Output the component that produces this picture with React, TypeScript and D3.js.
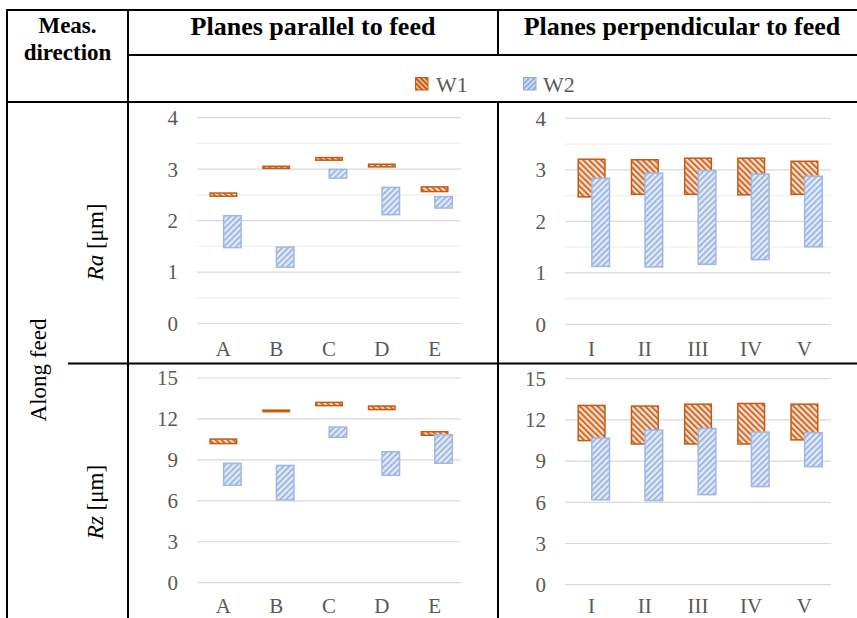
import React from "react";
import * as d3 from "d3";

const catsPar = ["A", "B", "C", "D", "E"];
const catsPerp = ["I", "II", "III", "IV", "V"];

const raParW1Low = [2.46, 3.0, 3.16, 3.03, 2.55];
const raParW1High = [2.55, 3.07, 3.24, 3.11, 2.67];
const raParW2Low = [1.46, 1.08, 2.81, 2.1, 2.23];
const raParW2High = [2.11, 1.5, 3.01, 2.66, 2.48];

const raPerpW1Low = [2.46, 2.51, 2.51, 2.5, 2.51];
const raPerpW1High = [3.22, 3.21, 3.24, 3.24, 3.18];
const raPerpW2Low = [1.11, 1.1, 1.15, 1.24, 1.49];
const raPerpW2High = [2.85, 2.95, 3.0, 2.93, 2.89];

const rzParW1Low = [10.14, 12.48, 12.92, 12.63, 10.75];
const rzParW1High = [10.58, 12.7, 13.27, 13.0, 11.12];
const rzParW2Low = [7.09, 6.01, 10.6, 7.82, 8.7];
const rzParW2High = [8.8, 8.65, 11.46, 9.65, 10.9];

const rzPerpW1Low = [10.44, 10.19, 10.19, 10.19, 10.49];
const rzPerpW1High = [13.11, 13.06, 13.2, 13.25, 13.2];
const rzPerpW2Low = [6.12, 6.07, 6.5, 7.09, 8.54];
const rzPerpW2High = [10.73, 11.31, 11.43, 11.17, 11.12];

const raTicks = [0, 1, 2, 3, 4];
const raMinor = [0.5, 1.5, 2.5, 3.5];
const rzTicks = [0, 3, 6, 9, 12, 15];

const seriesNames = ["W1", "W2"];

const SERIF = "Liberation Serif, Times New Roman, Times, serif";
const TXT = "#595959";

type PanelProps = {
  x0: number; x1: number; yZero: number; yTop: number; max: number;
  ticks: number[]; minor: number[]; cats: string[];
  w1Low: number[]; w1High: number[]; w2Low: number[]; w2High: number[];
};

function Panel(p: PanelProps) {
  const x = d3.scaleBand<string>().domain(p.cats).range([p.x0, p.x1]);
  const y = d3.scaleLinear().domain([0, p.max]).range([p.yZero, p.yTop]);
  const bw = x.bandwidth();
  const labY = Math.min(p.yZero + 32, 613);
  return (
    <g>
      {p.minor.map((t) => (
        <line key={"m" + t} x1={p.x0} x2={p.x1} y1={y(t)} y2={y(t)} stroke="#efefef" strokeWidth={1.2} />
      ))}
      {p.ticks.map((t) => (
        <g key={"t" + t}>
          <line x1={p.x0} x2={p.x1} y1={y(t)} y2={y(t)} stroke="#d9d9d9" strokeWidth={1.2} />
          <text x={p.x0 - 19} y={y(t)} dy="0.35em" textAnchor="end" style={{ fontFamily: SERIF, fontSize: 21 }} fill={TXT}>{t}</text>
        </g>
      ))}
      {p.cats.map((c, i) => {
        const cx = (x(c) as number) + bw / 2;
        const w1t = y(p.w1High[i]), w1b = y(p.w1Low[i]);
        const w2t = y(p.w2High[i]), w2b = y(p.w2Low[i]);
        return (
          <g key={c}>
            <rect x={cx - 0.265 * bw + 0.75} width={0.53 * bw - 1.5} y={w1t + 0.75} height={Math.max(0.5, w1b - w1t - 1.5)}
              fill="url(#patW1)" stroke="#c55a11" strokeWidth={1.5} />
            <rect x={cx - 0.01 * bw + 0.75} width={0.36 * bw - 1.5} y={w2t + 0.75} height={Math.max(0.5, w2b - w2t - 1.5)}
              fill="url(#patW2)" stroke="#9fb8e3" strokeWidth={1.5} />
            <text x={cx} y={labY} textAnchor="middle" style={{ fontFamily: SERIF, fontSize: 21 }} fill={TXT}>{c}</text>
          </g>
        );
      })}
    </g>
  );
}

export default function App() {
  const lines: [number, number, number, number][] = [
    [7, 10, 857, 10],
    [7, 9, 7, 618],
    [128, 9, 128, 618],
    [498, 9, 498, 55],
    [498, 102, 498, 618],
    [128, 55, 857, 55],
    [7, 102, 857, 102],
    [68, 363.5, 857, 363.5],
  ];
  const bold = { fontFamily: SERIF, fontWeight: "bold" as const };
  return (
    <svg width={857} height={618} style={{ position: "absolute", left: 0, top: 0, background: "#fff" }}>
      <defs>
        <pattern id="patW1" width={4.2} height={4.2} patternUnits="userSpaceOnUse" patternTransform="rotate(-45)">
          <rect width={4.2} height={4.2} fill="#fbe3d2" />
          <rect width={2} height={4.2} fill="#d0682a" />
        </pattern>
        <pattern id="patW2" width={4.2} height={4.2} patternUnits="userSpaceOnUse" patternTransform="rotate(45)">
          <rect width={4.2} height={4.2} fill="#e4ecf8" />
          <rect width={2} height={4.2} fill="#9fb8e3" />
        </pattern>
        <pattern id="legW1" width={3.6} height={3.6} patternUnits="userSpaceOnUse" patternTransform="rotate(-45)">
          <rect width={3.6} height={3.6} fill="#f7d3b8" />
          <rect width={2.2} height={3.6} fill="#c55a11" />
        </pattern>
        <pattern id="legW2" width={3.6} height={3.6} patternUnits="userSpaceOnUse" patternTransform="rotate(45)">
          <rect width={3.6} height={3.6} fill="#e4ecf8" />
          <rect width={2.2} height={3.6} fill="#8faadc" />
        </pattern>
      </defs>

      <text x={67.5} y={33} textAnchor="middle" style={{ ...bold, fontSize: 23 }}>Meas.</text>
      <text x={67.5} y={60} textAnchor="middle" style={{ ...bold, fontSize: 23 }}>direction</text>
      <text x={313} y={35} textAnchor="middle" style={{ ...bold, fontSize: 26 }}>Planes parallel to feed</text>
      <text x={682} y={35} textAnchor="middle" style={{ ...bold, fontSize: 26 }}>Planes perpendicular to feed</text>

      <rect x={415.5} y={77.5} width={12.5} height={12.5} fill="url(#legW1)" stroke="#c55a11" strokeWidth={1} />
      <text x={436} y={92} style={{ fontFamily: SERIF, fontSize: 22 }} fill={TXT}>{seriesNames[0]}</text>
      <rect x={523.5} y={77.5} width={12.5} height={12.5} fill="url(#legW2)" stroke="#8faadc" strokeWidth={1} />
      <text x={543} y={92} style={{ fontFamily: SERIF, fontSize: 22 }} fill={TXT}>{seriesNames[1]}</text>

      <text transform="translate(46,370) rotate(-90)" textAnchor="middle" style={{ fontFamily: SERIF, fontSize: 23 }}>Along feed</text>
      <text transform="translate(103,242) rotate(-90)" textAnchor="middle" style={{ fontFamily: SERIF, fontSize: 23 }}>
        <tspan fontStyle="italic">Ra</tspan> [μm]
      </text>
      <text transform="translate(103,502) rotate(-90)" textAnchor="middle" style={{ fontFamily: SERIF, fontSize: 23 }}>
        <tspan fontStyle="italic">Rz</tspan> [μm]
      </text>

      <Panel x0={197} x1={461} yZero={323.5} yTop={117.7} max={4} ticks={raTicks} minor={raMinor} cats={catsPar}
        w1Low={raParW1Low} w1High={raParW1High} w2Low={raParW2Low} w2High={raParW2High} />
      <Panel x0={565} x1={831} yZero={324.3} yTop={118.3} max={4} ticks={raTicks} minor={raMinor} cats={catsPerp}
        w1Low={raPerpW1Low} w1High={raPerpW1High} w2Low={raPerpW2Low} w2High={raPerpW2High} />
      <Panel x0={197} x1={461} yZero={582.7} yTop={378} max={15} ticks={rzTicks} minor={[]} cats={catsPar}
        w1Low={rzParW1Low} w1High={rzParW1High} w2Low={rzParW2Low} w2High={rzParW2High} />
      <Panel x0={565} x1={831} yZero={584.7} yTop={378.7} max={15} ticks={rzTicks} minor={[]} cats={catsPerp}
        w1Low={rzPerpW1Low} w1High={rzPerpW1High} w2Low={rzPerpW2Low} w2High={rzPerpW2High} />

      {lines.map((l, i) => (
        <line key={i} x1={l[0]} y1={l[1]} x2={l[2]} y2={l[3]} stroke="#000" strokeWidth={2} />
      ))}
    </svg>
  );
}
